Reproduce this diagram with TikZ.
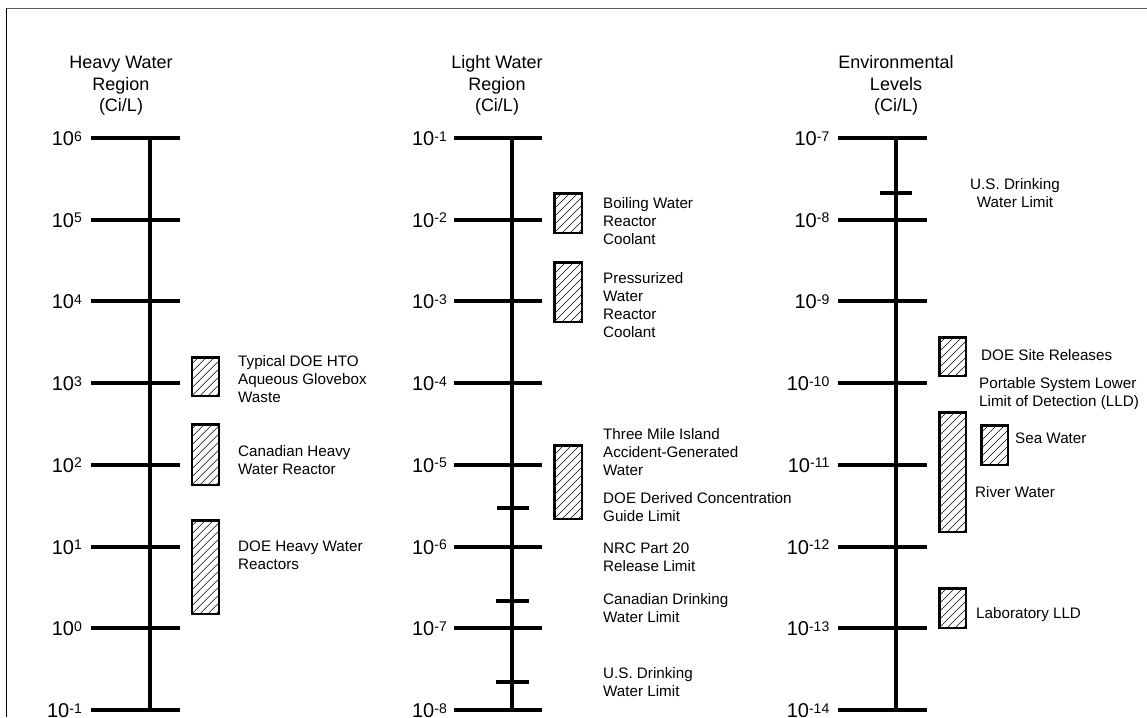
\documentclass[tikz,border=0pt]{standalone}
\usepackage{fontspec}
\setmainfont{Liberation Sans}
\newcommand\tenpow[2]{#1\raisebox{4.4pt}{\fontsize{14}{14}\selectfont #2}}
\begin{document}
\begin{tikzpicture}[x=1pt,y=-1pt,
  axis/.style={line width=4pt},
  tickmark/.style={line width=4pt},
  bar/.style={draw, line width=2.5pt, inner sep=0pt, outer sep=0pt,
    path picture={\foreach \k in {-20,...,6}{\draw[line width=0.6pt] ([xshift=\k*8pt]path picture bounding box.south west) -- ++(150pt,150pt);}}},
  ticklab/.style={anchor=base east, inner sep=0pt, font=\fontsize{20}{20}\selectfont},
  title/.style={align=center, inner sep=0pt, anchor=base, font=\fontsize{18}{21.7}\selectfont},
  note/.style={align=left, inner sep=0pt, anchor=base west, font=\fontsize{15.2}{18}\selectfont}]
\useasboundingbox (0,0) rectangle (1147,717);
% frame
\coordinate (f0) at (6.5,717);
\coordinate (f1) at (6.5,8.5);
\coordinate (f2) at (1147,8.5);
\draw[line width=1.5pt, black] (f0) -- (f1);
\draw[line width=1.5pt, black!65] (f1) -- (f2);

% titles (anchor = baseline of last line)
\node[title] (t1) at (121,111.7) {Heavy Water\\Region\\(Ci/L)};
\node[title] (t2) at (497,111.7) {Light Water\\Region\\(Ci/L)};
\node[title] (t3) at (896,111.7) {Environmental\\Levels\\(Ci/L)};

% axes
\coordinate (hTop) at (150,138); \coordinate (hBot) at (150,709.9);
\coordinate (lTop) at (512,138); \coordinate (lBot) at (512,709.9);
\coordinate (eTop) at (896,138); \coordinate (eBot) at (896,709.9);
\draw[axis] (hTop) -- (hBot);
\draw[axis] (lTop) -- (lBot);
\draw[axis] (eTop) -- (eBot);

% major ticks
\foreach \e [count=\i from 0] in {6,5,4,3,2,1,0,-1} {
  \coordinate (hL\i) at (91,138+\i*81.7);
  \coordinate (hR\i) at (180,138+\i*81.7);
  \draw[tickmark] (hL\i) -- (hR\i);
  \node[ticklab] (hN\i) at ([xshift=-9pt,yshift=-7.5pt]hL\i) {\tenpow{10}{\e}};
}
\foreach \e [count=\i from 0] in {-1,-2,-3,-4,-5,-6,-7,-8} {
  \coordinate (lL\i) at (454,138+\i*81.7);
  \coordinate (lR\i) at (542,138+\i*81.7);
  \draw[tickmark] (lL\i) -- (lR\i);
  \node[ticklab] (lN\i) at ([xshift=-7pt,yshift=-7.5pt]lL\i) {\tenpow{10}{\e}};
}
\foreach \e [count=\i from 0] in {-7,-8,-9,-10,-11,-12,-13,-14} {
  \coordinate (eL\i) at (838,138+\i*81.7);
  \coordinate (eR\i) at (927,138+\i*81.7);
  \draw[tickmark] (eL\i) -- (eR\i);
  \node[ticklab] (eN\i) at ([xshift=-8.5pt,yshift=-7.5pt]eL\i) {\tenpow{10}{\e}};
}

% short ticks
\coordinate (s1a) at (497,508); \coordinate (s1b) at (529,508);
\coordinate (s2a) at (496,601); \coordinate (s2b) at (529,601);
\coordinate (s3a) at (496,682); \coordinate (s3b) at (529,682);
\coordinate (s4a) at (880,193); \coordinate (s4b) at (912,193);
\draw[tickmark] (s1a) -- (s1b);
\draw[tickmark] (s2a) -- (s2b);
\draw[tickmark] (s3a) -- (s3b);
\draw[tickmark] (s4a) -- (s4b);

% bars heavy
\node[bar, minimum width=27pt, minimum height=38.5pt] (hb1) at (205.5,376.5) {};
\node[bar, minimum width=27pt, minimum height=60.5pt] (hb2) at (205.5,454.5) {};
\node[bar, minimum width=27pt, minimum height=93.5pt] (hb3) at (205.5,567) {};
% bars light
\node[bar, minimum width=27.5pt, minimum height=39.5pt] (lb1) at (568,213) {};
\node[bar, minimum width=27.5pt, minimum height=59.5pt] (lb2) at (568,292) {};
\node[bar, minimum width=27.5pt, minimum height=73.5pt] (lb3) at (568,482) {};
% bars env
\node[bar, minimum width=26.5pt, minimum height=38.5pt] (eb1) at (952.5,356.5) {};
\node[bar, minimum width=26.5pt, minimum height=119.5pt] (eb2) at (952.5,472) {};
\node[bar, minimum width=26.5pt, minimum height=39.5pt] (eb3) at (952.5,608) {};
\node[bar, minimum width=26.5pt, minimum height=39.5pt] (eb4) at (994.5,445) {};

% notes heavy (anchor = baseline of last line)
\node[note] (n1) at (238,402) {Typical DOE HTO\\Aqueous Glovebox\\Waste};
\node[note] (n2) at (238,474) {Canadian Heavy\\Water Reactor};
\node[note] (n3) at (238,569) {DOE Heavy Water\\Reactors};
% notes light
\node[note] (n4) at (603,244) {Boiling Water\\Reactor\\Coolant};
\node[note] (n5) at (603,337) {Pressurized\\Water\\Reactor\\Coolant};
\node[note] (n6) at (603,475) {Three Mile Island\\Accident-Generated\\Water};
\node[note] (n7) at (603,521) {DOE Derived Concentration\\Guide Limit};
\node[note] (n8) at (603,571) {NRC Part 20\\Release Limit};
\node[note] (n9) at (603,622) {Canadian Drinking\\Water Limit};
\node[note] (n10) at (603,696) {U.S. Drinking\\Water Limit};
% notes env
\node[note, align=center, anchor=base] (n11) at (1015,207) {U.S. Drinking\\Water Limit};
\node[note] (n12) at (981,360) {DOE Site Releases};
\node[note] (n13) at (979,406) {Portable System Lower\\Limit of Detection (LLD)};
\node[note] (n14) at (1015,443) {Sea Water};
\node[note] (n15) at (975,497) {River Water};
\node[note] (n16) at (976,618) {Laboratory LLD};
\end{tikzpicture}
\end{document}
